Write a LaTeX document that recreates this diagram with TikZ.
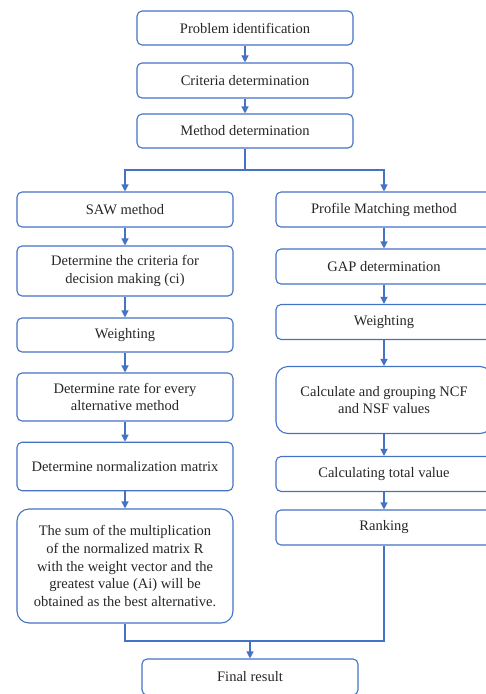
\documentclass[tikz,border=0pt]{standalone}
\usepackage{fontspec}
\setmainfont{Liberation Serif}
\usepackage{xcolor}
\usepackage{tikz}
\usetikzlibrary{arrows.meta,positioning}

\definecolor{flowblue}{HTML}{4472C4}
\definecolor{flowtext}{HTML}{262626}

\tikzset{
	box/.style={draw=flowblue, line width=1.1pt, rounded corners=5pt, minimum width=216pt, text=flowtext, align=center, inner sep=2pt, font=\fontsize{14.5}{17.7}\selectfont},
	bigbox/.style={box, rounded corners=12pt},
	flow/.style={draw=flowblue, line width=1.2pt},
	arr/.style={flow, -{Triangle[length=7pt,width=7pt]}}
}

\begin{document}
\begin{tikzpicture}[x=1pt, y=-1pt]
		\useasboundingbox (0,0) rectangle (485,694);
		
		% Common part
		\node[box, minimum height=34pt] (prob) at (245,28) {Problem identification};
		\node[box, minimum height=35pt] (crit) at (245,80.5) {Criteria determination};
		\node[box, minimum height=34pt] (meth) at (245,131) {Method determination};
		
		% SAW branch (left)
		\node[box, minimum height=35pt] (saw) at (125,209.5) {SAW method};
		\node[box, minimum height=50pt] (dcrit) at (125,271) {Determine the criteria for\\decision making (ci)};
		\node[box, minimum height=34pt] (wleft) at (125,335) {Weighting};
		\node[box, minimum height=48pt] (rate) at (125,397) {Determine rate for every\\alternative method};
		\node[box, minimum height=48.5pt] (norm) at (125,466.5) {Determine normalization matrix};
		\node[bigbox, minimum height=114pt] (sum) at (125,566) {The sum of the multiplication\\of the normalized matrix R\\with the weight vector and the\\greatest value (Ai) will be\\obtained as the best alternative.};
		
		% Profile Matching branch (right)
		\node[box, minimum height=35pt] (pm) at (384,209.5) {Profile Matching method};
		\node[box, minimum height=35pt] (gap) at (384,266.5) {GAP determination};
		\node[box, minimum height=35pt] (wright) at (384,322) {Weighting};
		\node[bigbox, minimum height=67pt] (calc) at (384,400) {Calculate and grouping NCF\\and NSF values};
		\node[box, minimum height=35pt] (total) at (384,474) {Calculating total value};
		\node[box, minimum height=35pt] (rank) at (384,527.5) {Ranking};
		
		\node[box, minimum height=36pt] (final) at (250,677) {Final result};
		
		\coordinate (split) at (245,170);
		\coordinate (join) at (250,641);
		
		% Arrows
		\draw[arr] (prob) -- (crit);
		\draw[arr] (crit) -- (meth);
		\draw[flow] (meth.south) -- (split);
		\draw[arr] (split) -| (saw.north);
		\draw[arr] (split) -| (pm.north);
		
		\draw[arr] (saw) -- (dcrit);
		\draw[arr] (dcrit) -- (wleft);
		\draw[arr] (wleft) -- (rate);
		\draw[arr] (rate) -- (norm);
		\draw[arr] (norm) -- (sum);
		
		\draw[arr] (pm) -- (gap);
		\draw[arr] (gap) -- (wright);
		\draw[arr] (wright) -- (calc);
		\draw[arr] (calc) -- (total);
		\draw[arr] (total) -- (rank);
		
		\draw[flow] (sum.south) |- (join);
		\draw[flow] (rank.south) |- (join);
		\draw[arr] (join) -- (final.north);
		
	\end{tikzpicture}
\end{document}
